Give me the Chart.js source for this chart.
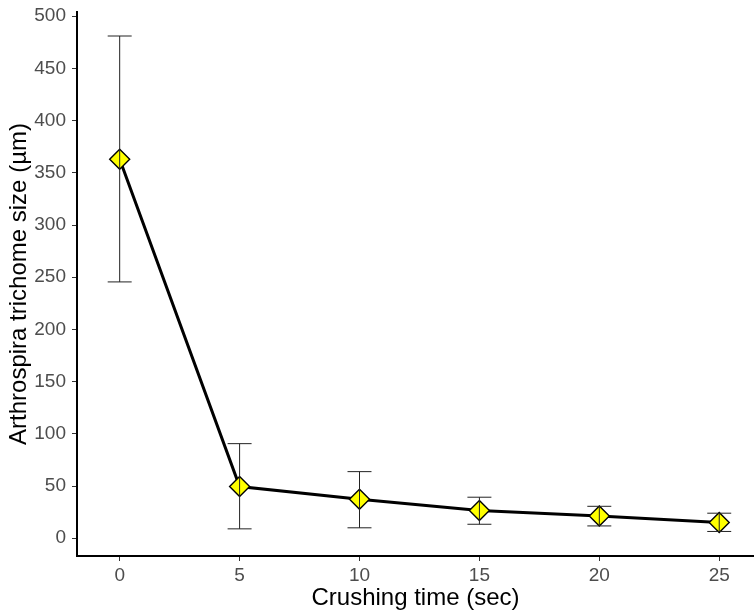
<!DOCTYPE html>
<html>
<head>
<meta charset="utf-8">
<script src="https://cdn.jsdelivr.net/npm/chart.js@4"></script>
<style>
  html, body { margin: 0; padding: 0; background: #fff; }
  #wrap { width: 754px; height: 613px; }
</style>
</head>
<body>
<div id="wrap"><canvas id="chart" width="754" height="613"></canvas></div>
<script>
const times = [0, 5, 10, 15, 20, 25];
const sizes = [363, 49.5, 37.3, 26.5, 21.4, 15];
const errLow = [245.5, 9, 10, 13.4, 11.8, 6.5];
const errHigh = [481, 90.6, 63.8, 39.3, 30.6, 24];
const xTicks = [0, 5, 10, 15, 20, 25];
const yTicks = [0, 50, 100, 150, 200, 250, 300, 350, 400, 450, 500];

const tickFont = { family: "'Liberation Sans', Arial, sans-serif", size: 19 };
const titleFont = { family: "'Liberation Sans', Arial, sans-serif", size: 24 };

// error bars drawn over the markers, like the reference
const errorBars = {
  id: "errorBars",
  afterDatasetsDraw(chart) {
    const ctx = chart.ctx;
    const xs = chart.scales.x, ys = chart.scales.y;
    ctx.save();
    ctx.strokeStyle = "#222";
    ctx.lineWidth = 1;
    times.forEach((t, i) => {
      const x = xs.getPixelForValue(t);
      const top = ys.getPixelForValue(errHigh[i]);
      const bot = ys.getPixelForValue(errLow[i]);
      const half = (xs.getPixelForValue(0.5) - xs.getPixelForValue(0));
      ctx.beginPath();
      ctx.moveTo(x, top); ctx.lineTo(x, bot);
      ctx.moveTo(x - half, top); ctx.lineTo(x + half, top);
      ctx.moveTo(x - half, bot); ctx.lineTo(x + half, bot);
      ctx.stroke();
    });
    ctx.restore();
  }
};

// keep tick labels from pushing the panel in
const noPad = (s) => {
  s.paddingLeft = 0; s.paddingRight = 0;
  s.paddingTop = 0; s.paddingBottom = 0;
};

new Chart("chart", {
  type: "scatter",
  data: {
    datasets: [
      {
        data: times.map((t, i) => ({ x: t, y: sizes[i] })),
        showLine: true,
        borderColor: "#000",
        borderWidth: 3,
        pointStyle: "rectRot",
        pointRadius: 10,
        pointHoverRadius: 10,
        pointBackgroundColor: "#ffff00",
        pointBorderColor: "#000",
        pointBorderWidth: 1.4,
      },
    ],
  },
  options: {
    responsive: false,
    animation: false,
    layout: { autoPadding: false, padding: { top: 12, right: 0, left: 0, bottom: 0 } },
    plugins: { legend: { display: false }, tooltip: { enabled: false } },
    scales: {
      x: {
        type: "linear",
        min: -1.78,
        max: 26.45,
        afterBuildTicks: (s) => { s.ticks = xTicks.map((v) => ({ value: v })); },
        afterFit: (s) => { s.height = 57; noPad(s); },
        grid: { drawOnChartArea: false, drawTicks: true, tickLength: 5, color: "#333", lineWidth: 1 },
        border: { display: true, color: "#000", width: 2 },
        ticks: { color: "#4d4d4d", font: tickFont, padding: 3 },
        title: { display: true, text: "Crushing time (sec)", color: "#000", font: titleFont, padding: { top: 0, bottom: 0 } },
      },
      y: {
        type: "linear",
        min: -17,
        max: 504,
        afterBuildTicks: (s) => { s.ticks = yTicks.map((v) => ({ value: v })); },
        afterFit: (s) => { s.width = 77; noPad(s); },
        grid: { drawOnChartArea: false, drawTicks: true, tickLength: 5, color: "#333", lineWidth: 1 },
        border: { display: true, color: "#000", width: 2 },
        ticks: { color: "#4d4d4d", font: tickFont, padding: 6 },
        title: { display: true, text: "Arthrospira trichome size (µm)", color: "#000", font: titleFont, padding: { top: 5, bottom: 0 } },
      },
    },
  },
  plugins: [errorBars],
});
</script>
</body>
</html>
